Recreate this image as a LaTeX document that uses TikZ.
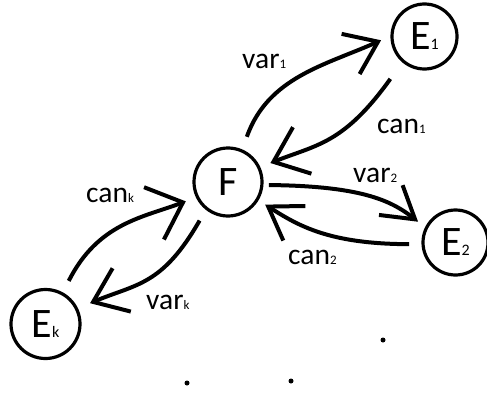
\documentclass[tikz,border=0pt]{standalone}
\usepackage{fontspec}
\setmainfont{Carlito}
\usetikzlibrary{arrows.meta}
\newcommand{\lsub}[1]{{\fontsize{13}{13}\selectfont #1}}
\newcommand{\nsub}[1]{{\fontsize{16}{16}\selectfont #1}}
\begin{document}
\begin{tikzpicture}[x=1pt,y=-1pt,
  ent/.style={draw, circle, line width=3.2pt, inner sep=0pt, outer sep=0pt,
    font=\fontsize{42}{42}\selectfont},
  lab/.style={anchor=base west, inner sep=0pt, font=\fontsize{29.5}{30}\selectfont},
  conn/.style={line width=4pt},
  dotmark/.style={fill, circle, inner sep=0pt, minimum size=5pt}]
\useasboundingbox (0,0) rectangle (487,412);
\fill[white] (0,0) rectangle (487,412);
% nodes
\node[ent, minimum size=68pt] (F) at (228,182) {F};
\node[ent, minimum size=65pt] (E1) at (424.5,36.5) {E\nsub{1}};
\node[ent, minimum size=65pt] (E2) at (455.5,242.5) {E\nsub{2}};
\node[ent, minimum size=69pt] (Ek) at (45.5,324) {E\nsub{k}};
% connectors
\draw[conn, -{Straight Barb[length=30pt,width=44pt]}, shorten <=15pt, shorten >=12pt]
  (F.66) .. controls (268,77) and (326,65) .. (E1.178);
\draw[conn, -{Straight Barb[length=31pt,width=50pt]}, shorten <=22pt, shorten >=12.5pt]
  (E1.229.5) .. controls (343.7,143.9) and (316.9,144.6) .. (F.25.5);
\draw[conn, -{Straight Barb[length=31pt,width=38pt]}, shorten <=7pt, shorten >=10.5pt]
  (F.-5.6) .. controls (360,186) and (390.7,200) .. (E2.154.6);
\draw[conn, -{Straight Barb[length=31pt,width=41pt]}, shorten <=14pt, shorten >=9.5pt]
  (E2.183) .. controls (330,244) and (298.9,226.2) .. (F.-31.9);
\draw[conn, -{Straight Barb[length=31pt,width=56pt]}, shorten <=14.5pt, shorten >=12.5pt]
  (Ek.61.3) .. controls (98,222.9) and (143.4,217.4) .. (F.206.6);
\draw[conn, -{Straight Barb[length=31pt,width=47pt]}, shorten <=14pt, shorten >=14.7pt]
  (F.231.7) .. controls (162,285.9) and (136.5,283.7) .. (Ek.26.3);
% labels
\node[lab] (lv1) at (242,68) {var\lsub{1}};
\node[lab] (lc1) at (377,133) {can\lsub{1}};
\node[lab] (lv2) at (353,182) {var\lsub{2}};
\node[lab] (lc2) at (288,264) {can\lsub{2}};
\node[lab] (lck) at (86,202) {can\lsub{k}};
\node[lab] (lvk) at (146,309) {var\lsub{k}};
% dots
\node[dotmark] (d1) at (383,340) {};
\node[dotmark] (d2) at (187,383) {};
\node[dotmark] (d3) at (291,381) {};
\end{tikzpicture}
\end{document}
